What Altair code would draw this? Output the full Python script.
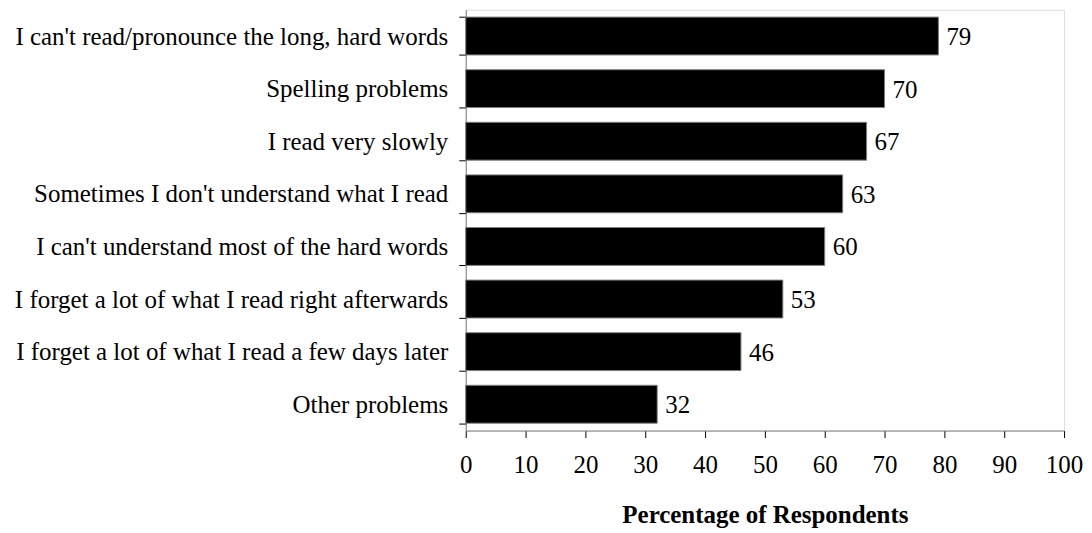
import altair as alt
import pandas as pd

categories = [
    "I can't read/pronounce the long, hard words",
    "Spelling problems",
    "I read very slowly",
    "Sometimes I don't understand what I read",
    "I can't understand most of the hard words",
    "I forget a lot of what I read right afterwards",
    "I forget a lot of what I read a few days later",
    "Other problems",
]
values = [79, 70, 67, 63, 60, 53, 46, 32]
labels = ["79", "70", "67", "63", "60", "53", "46", "32"]

df = pd.DataFrame({"problem": categories, "pct": values, "label": labels})

FONT = "Liberation Serif"
FS = 25

y = alt.Y(
    "problem:N",
    sort=categories,
    scale=alt.Scale(paddingInner=0.28, paddingOuter=0.14),
    axis=alt.Axis(
        title=None,
        tickBand="extent",
        tickSize=7,
        labelPadding=11,
        labelFontSize=FS,
        labelFont=FONT,
        labelColor="black",
        labelLimit=600,
        domainColor="#808080",
        tickColor="black",
    ),
)

x = alt.X(
    "pct:Q",
    scale=alt.Scale(domain=[0, 100], nice=False),
    axis=alt.Axis(
        title="Percentage of Respondents",
        values=list(range(0, 101, 10)),
        grid=False,
        tickSize=7,
        labelPadding=15,
        labelFlush=False,
        labelOverlap=False,
        labelFontSize=FS,
        labelFont=FONT,
        labelColor="black",
        titleFont=FONT,
        titleFontSize=25,
        titleFontWeight="bold",
        titleColor="black",
        titlePadding=25,
        domainColor="#808080",
        tickColor="black",
    ),
)

bars = alt.Chart(df).mark_bar(color="black", stroke="#808080", strokeWidth=1).encode(x=x, y=y)

text = alt.Chart(df).mark_text(
    align="left", baseline="middle", dx=8, dy=1, fontSize=FS, font=FONT, color="black"
).encode(x="pct:Q", y=alt.Y("problem:N", sort=categories), text="label:N")

chart = (
    (bars + text)
    .properties(
        width=600,
        height=422,
        autosize=alt.AutoSizeParams(type="none"),
        padding={"left": 459, "top": 1, "right": 20, "bottom": 100},
    )
    .configure_view(stroke=None)
    .configure(background="white")
)

chart.save("out.html", embed_options={"renderer": "svg", "actions": False})
